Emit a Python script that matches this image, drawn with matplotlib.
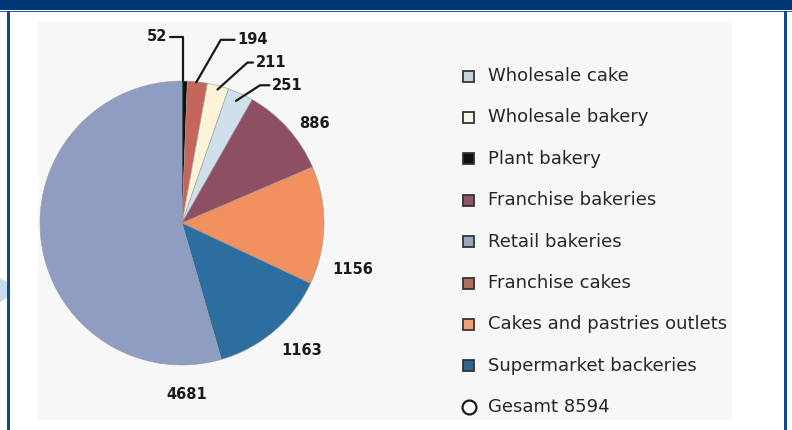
import matplotlib
matplotlib.use('Agg')
import matplotlib.pyplot as plt
from matplotlib.patches import Rectangle, Polygon
from matplotlib.lines import Line2D

# Slice data in drawing order (clockwise from 12 o'clock)
slice_names = ['Plant bakery', 'Franchise cakes', 'Wholesale bakery', 'Wholesale cake',
               'Franchise bakeries', 'Cakes and pastries outlets', 'Supermarket backeries',
               'Retail bakeries']
slice_values = [52, 194, 211, 251, 886, 1156, 1163, 4681]
slice_colors = ['#111111', '#c4665c', '#fdf3d8', '#cfe0ec',
                '#8d4f61', '#f2905f', '#2b6e9f', '#8f9dc3']

# Legend order as in the reference
legend_names = ['Wholesale cake', 'Wholesale bakery', 'Plant bakery', 'Franchise bakeries',
                'Retail bakeries', 'Franchise cakes', 'Cakes and pastries outlets',
                'Supermarket backeries']
legend_colors = ['#c9d3db', '#f8f4ea', '#111111', '#8d5566',
                 '#9aa7bd', '#b0705f', '#eda27c', '#31668f']
total_label = 'Gesamt 8594'

W, H = 792, 430
fig = plt.figure(figsize=(W / 100, H / 100), dpi=100)
fig.patch.set_facecolor('white')


def fx(px):
    return px / W


def fy(py):
    return 1 - py / H


def bg(artist):
    artist.set_zorder(-5)
    fig.add_artist(artist)


# frame and header
bg(Rectangle((0, fy(10)), 1, 10 / H, transform=fig.transFigure,
             facecolor='#003876', edgecolor='none'))
bg(Rectangle((0, fy(12)), 1, 1.3 / H, transform=fig.transFigure,
             facecolor='#2a5d9a', edgecolor='none'))
bg(Rectangle((fx(7), 0), 2.5 / W, fy(11), transform=fig.transFigure,
             facecolor='#0d4a8e', edgecolor='none'))
bg(Rectangle((fx(784), 0), 2.5 / W, fy(11), transform=fig.transFigure,
             facecolor='#0d4a8e', edgecolor='none'))
bg(Polygon([(0, fy(278)), (fx(7), fy(282)), (fx(7), fy(298)), (0, fy(302))],
           closed=True, transform=fig.transFigure, facecolor='#c6dcee', edgecolor='none'))
# light chart area
bg(Rectangle((fx(38), fy(420)), (732 - 38) / W, (420 - 22) / H,
             transform=fig.transFigure, facecolor='#f7f7f7', edgecolor='none'))

# pie
cx, cy, r = 182, 223, 142
ax = fig.add_axes([fx(cx - r), fy(cy + r), 2 * r / W, 2 * r / H])
ax.set_zorder(5)
ax.pie(slice_values, colors=slice_colors, startangle=90, counterclock=False,
       wedgeprops=dict(linewidth=0.4, edgecolor='#9a9a9a'))
ax.set_xlim(-1, 1)
ax.set_ylim(-1, 1)

lbl = dict(fontsize=10.5, fontweight='bold', color='#1a1a1a')
arrow = dict(arrowstyle='-', color='#1a1a1a', lw=1.6, shrinkA=0, shrinkB=0)

# small slices with elbow leaders
ax.annotate(str(slice_values[0]), xy=(0.005, 1.0), xytext=(-0.105, 1.31),
            ha='right', va='center', annotation_clip=False,
            arrowprops=dict(connectionstyle='angle,angleA=0,angleB=90,rad=0', **arrow), **lbl)
ax.annotate(str(slice_values[1]), xy=(0.1, 0.99), xytext=(0.39, 1.29),
            ha='left', va='center', annotation_clip=False,
            arrowprops=dict(connectionstyle='angle,angleA=0,angleB=60,rad=0', **arrow), **lbl)
ax.annotate(str(slice_values[2]), xy=(0.25, 0.94), xytext=(0.52, 1.13),
            ha='left', va='center', annotation_clip=False,
            arrowprops=dict(connectionstyle='angle,angleA=0,angleB=42,rad=0', **arrow), **lbl)
ax.annotate(str(slice_values[3]), xy=(0.38, 0.86), xytext=(0.635, 0.97),
            ha='left', va='center', annotation_clip=False,
            arrowprops=dict(connectionstyle='angle,angleA=0,angleB=33,rad=0', **arrow), **lbl)

# larger slices, plain labels
big_pos = [(0.93, 0.70), (1.20, -0.33), (0.845, -0.895), (0.035, -1.21)]
for val, (px, py) in zip(slice_values[4:], big_pos):
    ax.text(px, py, str(val), ha='center', va='center', clip_on=False, **lbl)

# legend
y0, step = 76, 41.4
for i, (name, col) in enumerate(zip(legend_names, legend_colors)):
    yy = y0 + i * step
    fig.add_artist(Rectangle((fx(463), fy(yy + 5.5)), 11 / W, 11 / H,
                             transform=fig.transFigure, facecolor=col,
                             edgecolor='#333333', linewidth=1.3))
    fig.text(fx(488), fy(yy), name, fontsize=13, color='#262626', va='center', ha='left')
yy = y0 + len(legend_names) * step
fig.add_artist(Line2D([fx(469)], [fy(yy)], marker='o', markersize=10, markerfacecolor='white',
                      markeredgecolor='#1a1a1a', markeredgewidth=1.6, transform=fig.transFigure))
fig.text(fx(488), fy(yy), total_label, fontsize=13, color='#262626', va='center', ha='left')

fig.savefig('out.png', dpi=100)
